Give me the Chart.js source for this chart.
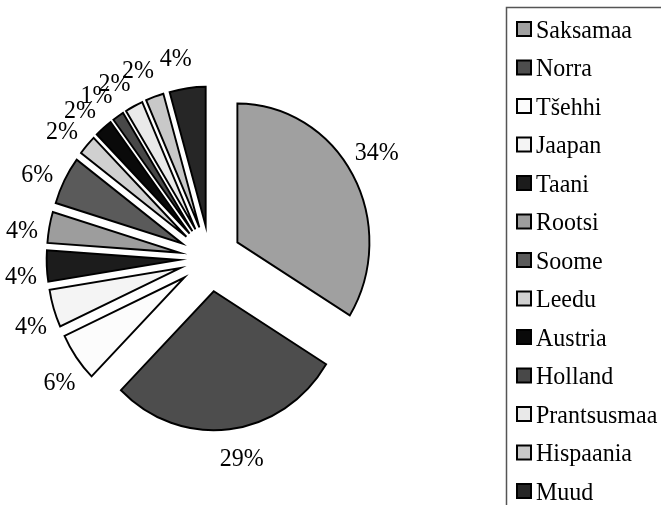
<!DOCTYPE html>
<html>
<head>
<meta charset="utf-8">
<script src="https://cdn.jsdelivr.net/npm/chart.js@4"></script>
<style>
  body { margin: 0; background: #fff; }
  #wrap { width: 661px; height: 505px; position: relative; }
</style>
</head>
<body>
<div id="wrap"><canvas id="myChart"></canvas></div>
<script>
const countries = ['Saksamaa', 'Norra', 'Tšehhi', 'Jaapan', 'Taani', 'Rootsi', 'Soome',
  'Leedu', 'Austria', 'Holland', 'Prantsusmaa', 'Hispaania', 'Muud'];
const shares = [33.8, 28.6, 5.7, 4.4, 3.6, 3.6, 5.6, 2.3, 2.2, 1.4, 2.2, 2.2, 4.4];
const greys = ['#a0a0a0', '#4d4d4d', '#fcfcfc', '#f4f4f4', '#1c1c1c', '#9d9d9d', '#5a5a5a',
  '#d0d0d0', '#0a0a0a', '#484848', '#e9e9e9', '#c8c8c8', '#262626'];

const FONT = '25px "Liberation Serif", "Times New Roman", serif';
const explode = 33;   // distance each slice is pulled out
const squeeze = 0.95; // pie is a little narrower than tall in the original

function serifText(ctx, txt, x, y) {
  ctx.save();
  ctx.translate(x, y);
  ctx.scale(0.96, 1);
  ctx.fillText(txt, 0, 0);
  ctx.restore();
}

const explodedPie = {
  id: 'explodedPie',
  beforeDatasetsDraw(chart) {
    const ctx = chart.ctx;
    const arcs = chart.getDatasetMeta(0).data;
    arcs.forEach(arc => {
      const mid = (arc.startAngle + arc.endAngle) / 2;
      ctx.save();
      ctx.translate(arc.x, arc.y);
      ctx.scale(squeeze, 1);
      ctx.translate(-arc.x, -arc.y);
      ctx.translate(Math.cos(mid) * explode, Math.sin(mid) * explode);
      arc.draw(ctx);
      ctx.restore();
    });
    return false;
  },
  afterDraw(chart) {
    const ctx = chart.ctx;
    const arcs = chart.getDatasetMeta(0).data;
    const total = shares.reduce((a, b) => a + b, 0);

    // percentage labels outside the slices
    ctx.save();
    ctx.font = FONT;
    ctx.fillStyle = '#000';
    ctx.textAlign = 'center';
    ctx.textBaseline = 'middle';
    arcs.forEach((arc, i) => {
      const mid = (arc.startAngle + arc.endAngle) / 2 - 2.5 * Math.PI / 180;
      const cx = Math.cos(mid), cy = Math.sin(mid);
      const d = arc.outerRadius + explode + 11;
      const txt = Math.round(shares[i] / total * 100) + '%';
      const w = ctx.measureText(txt).width * 0.96;
      const x = arc.x + cx * d * squeeze + cx * w / 2;
      const y = arc.y + cy * d + cy * 20;
      serifText(ctx, txt, x, y + 1);
    });
    ctx.restore();

    // legend on the right
    ctx.save();
    ctx.strokeStyle = '#555';
    ctx.lineWidth = 1.5;
    ctx.beginPath();
    ctx.moveTo(506.5, 505);
    ctx.lineTo(506.5, 7.5);
    ctx.lineTo(661, 7.5);
    ctx.stroke();
    ctx.font = FONT;
    ctx.textAlign = 'left';
    ctx.textBaseline = 'middle';
    countries.forEach((name, i) => {
      const y = 30 + i * 38.5;
      ctx.fillStyle = greys[i];
      ctx.fillRect(517, y - 8, 14, 14);
      ctx.strokeStyle = '#000';
      ctx.lineWidth = 2;
      ctx.strokeRect(517, y - 8, 14, 14);
      ctx.fillStyle = '#000';
      serifText(ctx, name, 536, y + 1);
    });
    ctx.restore();
  }
};

new Chart(document.getElementById('myChart'), {
  type: 'pie',
  data: {
    labels: countries,
    datasets: [{
      data: shares,
      backgroundColor: greys,
      borderColor: '#000',
      borderWidth: 2,
      borderJoinStyle: 'miter'
    }]
  },
  options: {
    responsive: true,
    maintainAspectRatio: false,
    animation: false,
    radius: 139,
    layout: { padding: { left: 0, top: 12, right: 241, bottom: 0 } },
    plugins: {
      legend: { display: false },
      tooltip: { enabled: false }
    }
  },
  plugins: [explodedPie]
});
</script>
</body>
</html>
